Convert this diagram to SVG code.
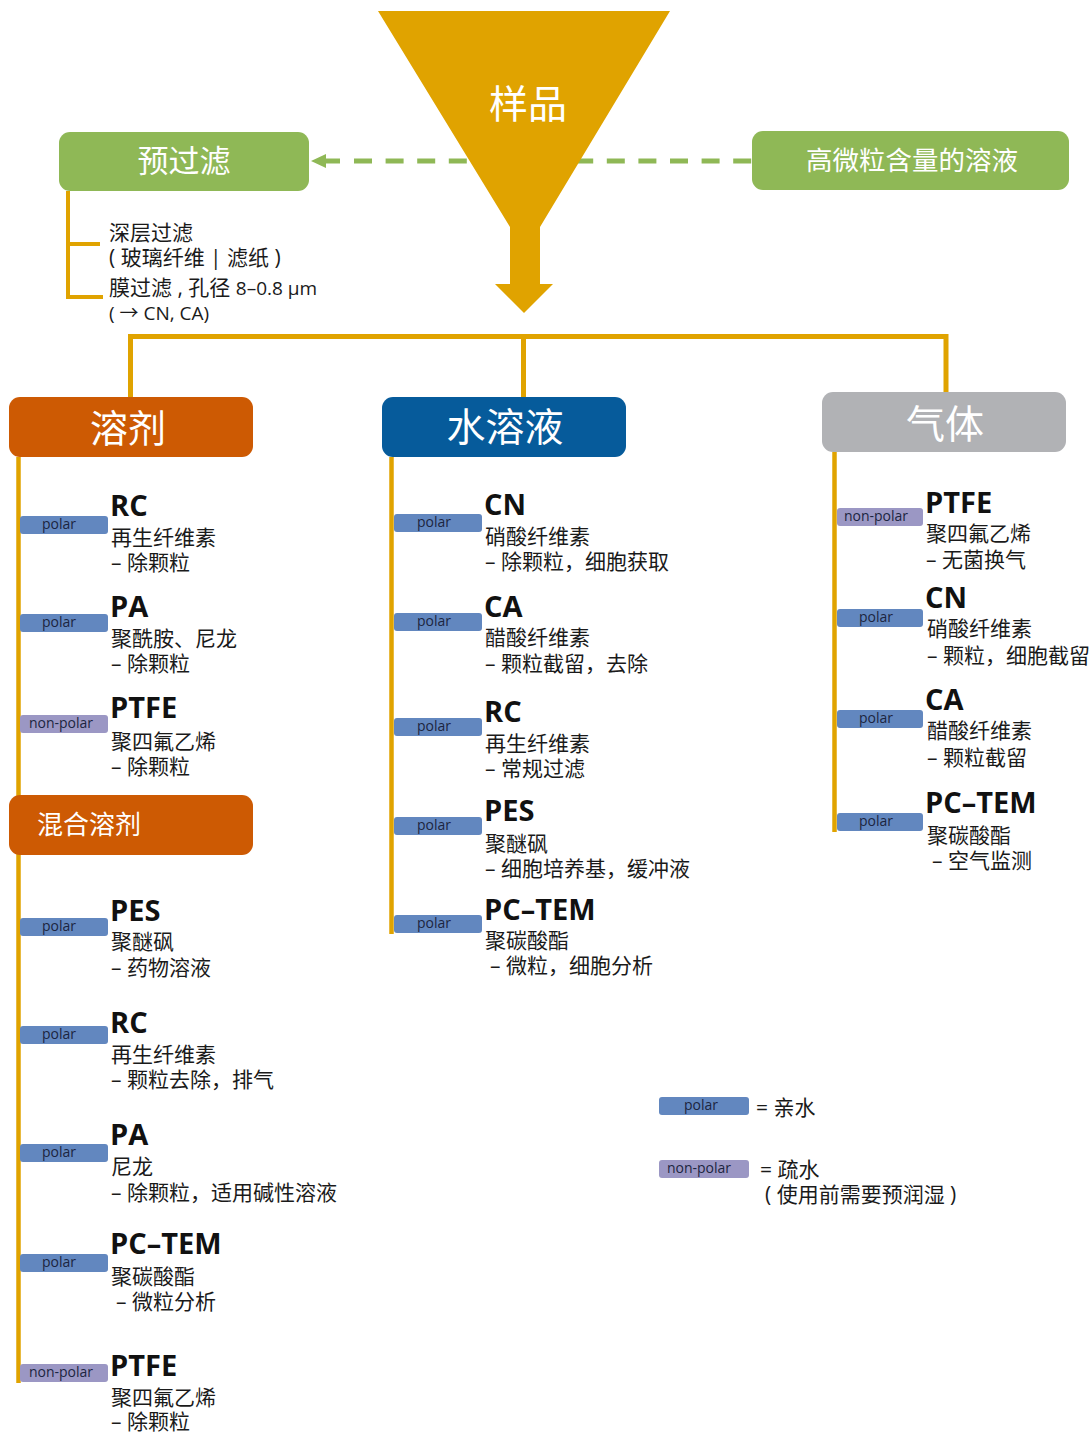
<svg xmlns="http://www.w3.org/2000/svg" width="1091" height="1434" viewBox="0 0 1091 1434">
<defs>
<style>
text{font-family:"Open Sans","Noto Sans CJK SC",sans-serif;}
.bx{font-family:"Noto Sans CJK SC","Open Sans",sans-serif;fill:#fff;text-anchor:middle;}
.ttl{font-size:29px;font-weight:700;fill:#111;}
.ln{font-size:21px;fill:#1a1a1a;}
.lat{font-size:19px;}
.pol{fill:#6287bf;}
.npol{fill:#9b97c4;}
.bt{font-size:14px;fill:#1c2540;text-anchor:middle;}
.or{stroke:#e0a300;fill:none;}
</style>
</defs>
<rect width="1091" height="1434" fill="#fff"/>

<g id="connectors">
  <line x1="354" y1="161" x2="752" y2="161" stroke="#8fb856" stroke-width="5" stroke-dasharray="18 13.6"/>
  <line x1="322" y1="161" x2="340" y2="161" stroke="#8fb856" stroke-width="5"/>
  <polygon points="311,161 326,154 326,168" fill="#8fb856"/>
  <path class="or" stroke-width="4" d="M68,191 V297 M66,244 H100 M66,297 H103"/>
  <path class="or" stroke-width="5" d="M130.5,397 V336.5 H946 V392 M523.5,336.5 V397"/>
  <line class="or" x1="18.5" y1="457" x2="18.5" y2="1383" stroke-width="4.5"/>
  <line class="or" x1="391.5" y1="457" x2="391.5" y2="934" stroke-width="4.5"/>
  <line class="or" x1="834.5" y1="452" x2="834.5" y2="832" stroke-width="4.5"/>
</g>

<g id="sample">
  <polygon points="378,11 670,11 540,227 540,284 553,284 524,313 495,284 510,284 510,227" fill="#e0a300"/>
  <text class="bx" x="528" y="118" font-size="39">样品</text>
</g>

<g id="prefilter">
  <rect x="59" y="132" width="250" height="59" rx="11" fill="#8fb856"/>
  <text class="bx" x="184" y="172" font-size="31">预过滤</text>
</g>
<g id="highparticle">
  <rect x="752" y="131" width="317" height="59" rx="11" fill="#8fb856"/>
  <text class="bx" x="912" y="170" font-size="26.5">高微粒含量的溶液</text>
</g>
<g id="prefilter-notes">
  <text class="ln" x="109" y="240">深层过滤</text>
  <text class="ln" x="109" y="265">( 玻璃纤维 | 滤纸 )</text>
  <text class="ln" x="109" y="295">膜过滤 , 孔径 <tspan class="lat">8–0.8 µm</tspan></text>
  <text class="ln" x="109" y="320"><tspan class="lat">( → CN, CA)</tspan></text>
</g>

<g id="solvent">
  <rect x="9" y="397" width="244" height="60" rx="11" fill="#cd5a03"/>
  <text class="bx" x="128" y="442" font-size="38">溶剂</text>
</g>
<g id="aqueous">
  <rect x="382" y="397" width="244" height="60" rx="11" fill="#065b9b"/>
  <text class="bx" x="505" y="441" font-size="39">水溶液</text>
</g>
<g id="gas">
  <rect x="822" y="392" width="244" height="60" rx="11" fill="#b1b2b5"/>
  <text class="bx" x="945" y="438" font-size="39">气体</text>
</g>
<g id="mixed">
  <rect x="9" y="795" width="244" height="60" rx="11" fill="#cd5a03"/>
  <text class="bx" x="37" y="834" font-size="26" style="text-anchor:start">混合溶剂</text>
</g>

<!-- solvent column -->
<g id="s-rc">
  <rect class="pol" x="20" y="516" width="88" height="18" rx="3"/><text class="bt" x="59" y="529">polar</text>
  <text class="ttl" x="110" y="516">RC</text>
  <text class="ln" x="111" y="545">再生纤维素</text>
  <text class="ln" x="111" y="570">– 除颗粒</text>
</g>
<g id="s-pa">
  <rect class="pol" x="20" y="614" width="88" height="18" rx="3"/><text class="bt" x="59" y="627">polar</text>
  <text class="ttl" x="110" y="617">PA</text>
  <text class="ln" x="111" y="646">聚酰胺、尼龙</text>
  <text class="ln" x="111" y="671">– 除颗粒</text>
</g>
<g id="s-ptfe">
  <rect class="npol" x="20" y="715" width="88" height="18" rx="3"/><text class="bt" x="61" y="728">non-polar</text>
  <text class="ttl" x="110" y="718">PTFE</text>
  <text class="ln" x="111" y="749">聚四氟乙烯</text>
  <text class="ln" x="111" y="774">– 除颗粒</text>
</g>
<g id="m-pes">
  <rect class="pol" x="20" y="918" width="88" height="18" rx="3"/><text class="bt" x="59" y="931">polar</text>
  <text class="ttl" x="110" y="921">PES</text>
  <text class="ln" x="111" y="949">聚醚砜</text>
  <text class="ln" x="111" y="975">– 药物溶液</text>
</g>
<g id="m-rc">
  <rect class="pol" x="20" y="1026" width="88" height="18" rx="3"/><text class="bt" x="59" y="1039">polar</text>
  <text class="ttl" x="110" y="1033">RC</text>
  <text class="ln" x="111" y="1062">再生纤维素</text>
  <text class="ln" x="111" y="1087">– 颗粒去除，排气</text>
</g>
<g id="m-pa">
  <rect class="pol" x="20" y="1144" width="88" height="18" rx="3"/><text class="bt" x="59" y="1157">polar</text>
  <text class="ttl" x="110" y="1145">PA</text>
  <text class="ln" x="111" y="1174">尼龙</text>
  <text class="ln" x="111" y="1200">– 除颗粒，适用碱性溶液</text>
</g>
<g id="m-pctem">
  <rect class="pol" x="20" y="1254" width="88" height="18" rx="3"/><text class="bt" x="59" y="1267">polar</text>
  <text class="ttl" x="110" y="1254">PC–TEM</text>
  <text class="ln" x="111" y="1284">聚碳酸酯</text>
  <text class="ln" x="116" y="1309">– 微粒分析</text>
</g>
<g id="m-ptfe">
  <rect class="npol" x="20" y="1364" width="88" height="18" rx="3"/><text class="bt" x="61" y="1377">non-polar</text>
  <text class="ttl" x="110" y="1376">PTFE</text>
  <text class="ln" x="111" y="1405">聚四氟乙烯</text>
  <text class="ln" x="111" y="1429">– 除颗粒</text>
</g>

<!-- aqueous column -->
<g id="a-cn">
  <rect class="pol" x="394" y="514" width="88" height="18" rx="3"/><text class="bt" x="434" y="527">polar</text>
  <text class="ttl" x="484" y="515">CN</text>
  <text class="ln" x="485" y="544">硝酸纤维素</text>
  <text class="ln" x="485" y="569">– 除颗粒，细胞获取</text>
</g>
<g id="a-ca">
  <rect class="pol" x="394" y="613" width="88" height="18" rx="3"/><text class="bt" x="434" y="626">polar</text>
  <text class="ttl" x="484" y="617">CA</text>
  <text class="ln" x="485" y="645">醋酸纤维素</text>
  <text class="ln" x="485" y="671">– 颗粒截留，去除</text>
</g>
<g id="a-rc">
  <rect class="pol" x="394" y="718" width="88" height="18" rx="3"/><text class="bt" x="434" y="731">polar</text>
  <text class="ttl" x="484" y="722">RC</text>
  <text class="ln" x="485" y="751">再生纤维素</text>
  <text class="ln" x="485" y="776">– 常规过滤</text>
</g>
<g id="a-pes">
  <rect class="pol" x="394" y="817" width="88" height="18" rx="3"/><text class="bt" x="434" y="830">polar</text>
  <text class="ttl" x="484" y="821">PES</text>
  <text class="ln" x="485" y="851">聚醚砜</text>
  <text class="ln" x="485" y="876">– 细胞培养基，缓冲液</text>
</g>
<g id="a-pctem">
  <rect class="pol" x="394" y="915" width="88" height="18" rx="3"/><text class="bt" x="434" y="928">polar</text>
  <text class="ttl" x="484" y="920">PC–TEM</text>
  <text class="ln" x="485" y="948">聚碳酸酯</text>
  <text class="ln" x="490" y="973">– 微粒，细胞分析</text>
</g>

<!-- gas column -->
<g id="g-ptfe">
  <rect class="npol" x="837" y="508" width="86" height="18" rx="3"/><text class="bt" x="876" y="521">non-polar</text>
  <text class="ttl" x="925" y="513">PTFE</text>
  <text class="ln" x="926" y="541">聚四氟乙烯</text>
  <text class="ln" x="926" y="567">– 无菌换气</text>
</g>
<g id="g-cn">
  <rect class="pol" x="837" y="609" width="86" height="18" rx="3"/><text class="bt" x="876" y="622">polar</text>
  <text class="ttl" x="925" y="608">CN</text>
  <text class="ln" x="927" y="636">硝酸纤维素</text>
  <text class="ln" x="927" y="663">– 颗粒，细胞截留</text>
</g>
<g id="g-ca">
  <rect class="pol" x="837" y="710" width="86" height="18" rx="3"/><text class="bt" x="876" y="723">polar</text>
  <text class="ttl" x="925" y="710">CA</text>
  <text class="ln" x="927" y="738">醋酸纤维素</text>
  <text class="ln" x="927" y="765">– 颗粒截留</text>
</g>
<g id="g-pctem">
  <rect class="pol" x="837" y="813" width="86" height="18" rx="3"/><text class="bt" x="876" y="826">polar</text>
  <text class="ttl" x="925" y="813">PC–TEM</text>
  <text class="ln" x="927" y="843">聚碳酸酯</text>
  <text class="ln" x="932" y="868">– 空气监测</text>
</g>

<g id="legend">
  <rect class="pol" x="659" y="1097" width="90" height="18" rx="3"/><text class="bt" x="701" y="1110">polar</text>
  <text class="ln" x="756" y="1115">= 亲水</text>
  <rect class="npol" x="659" y="1160" width="90" height="18" rx="3"/><text class="bt" x="699" y="1173">non-polar</text>
  <text class="ln" x="760" y="1177">= 疏水</text>
  <text class="ln" x="765" y="1202">( 使用前需要预润湿 )</text>
</g>
</svg>
